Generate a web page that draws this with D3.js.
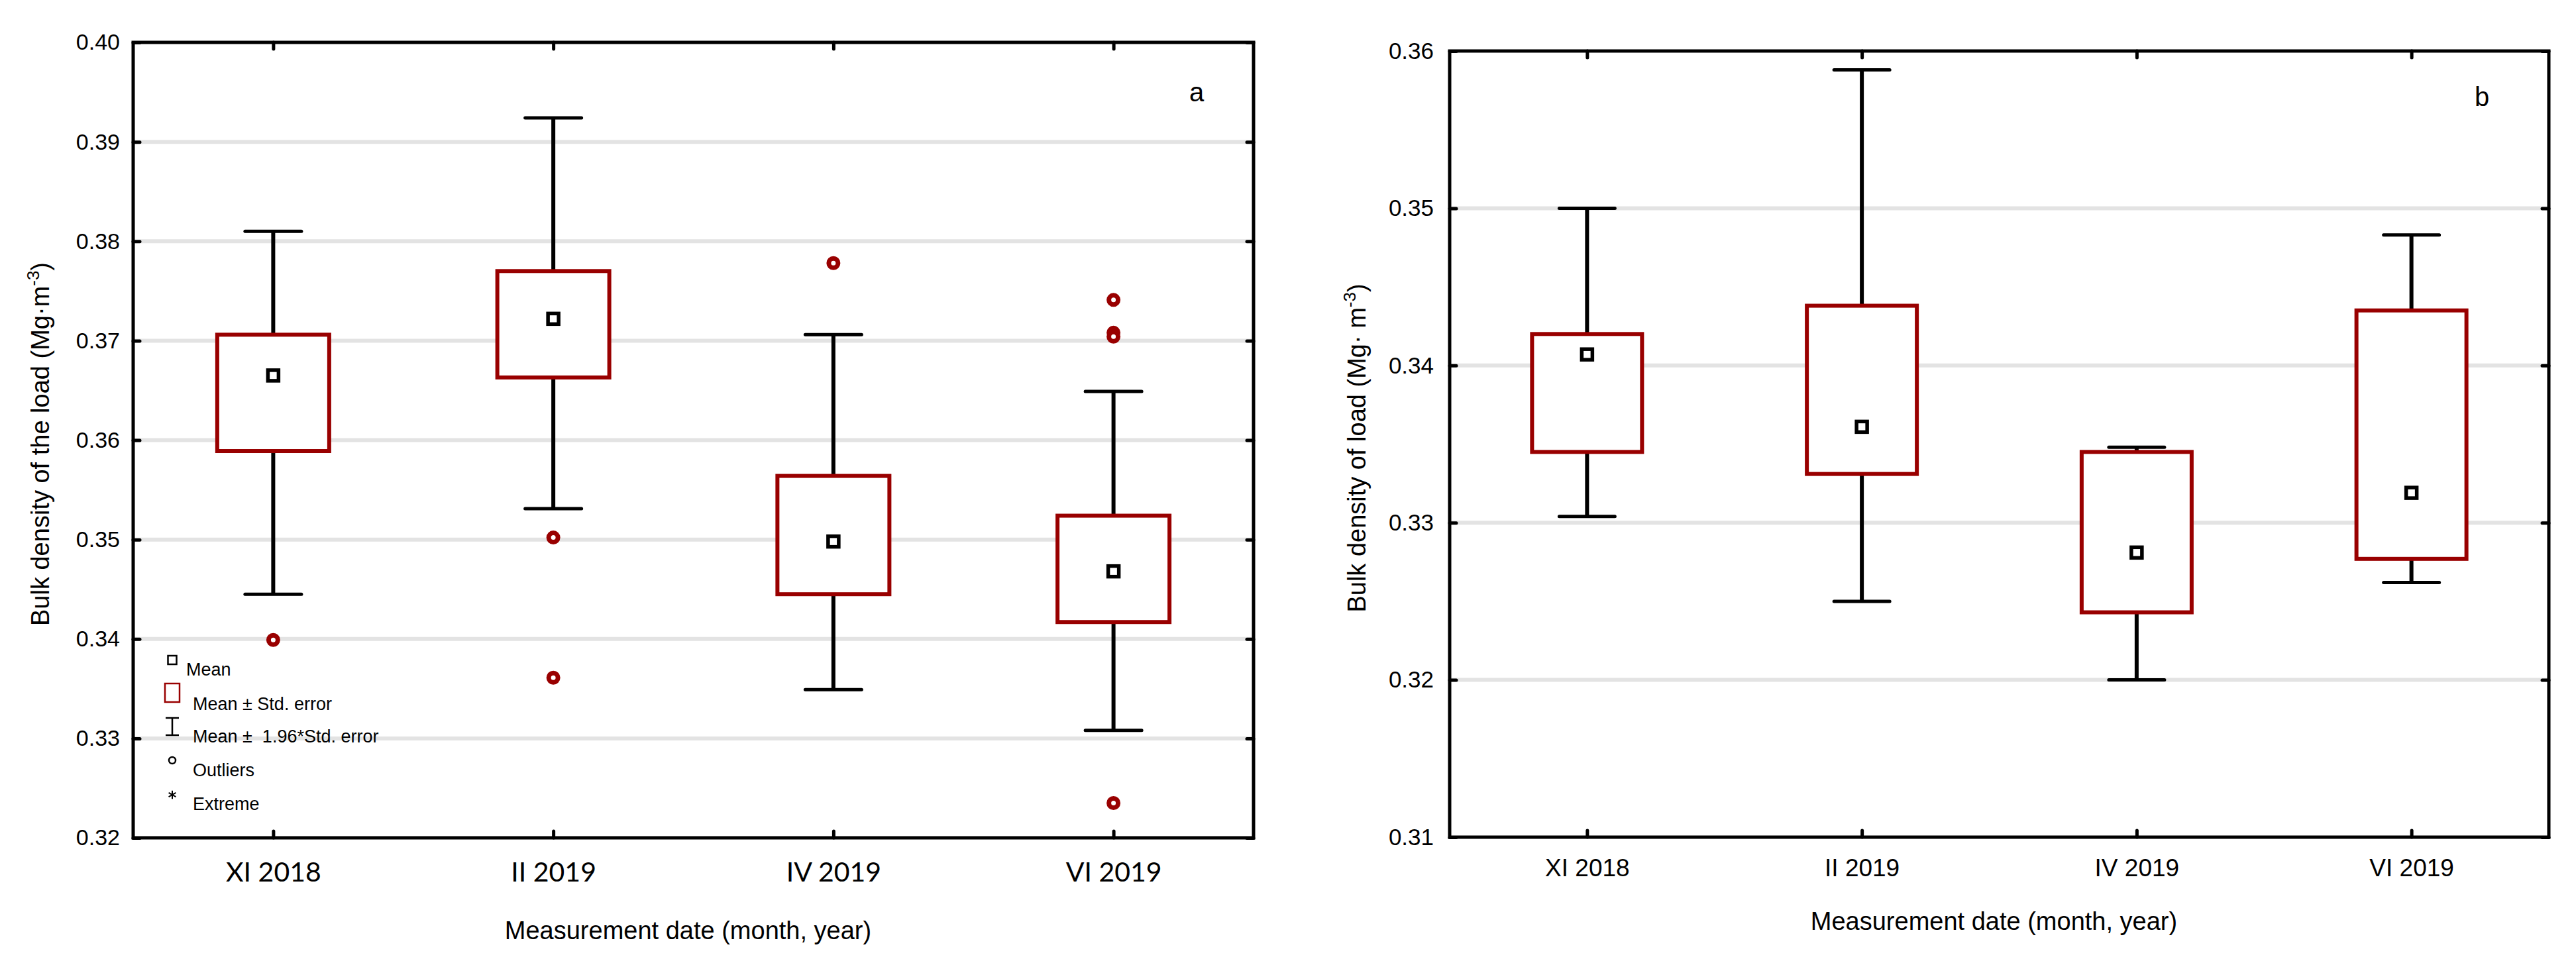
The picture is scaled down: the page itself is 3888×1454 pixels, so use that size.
<!DOCTYPE html>
<html lang="en">
<head>
    <meta charset="UTF-8">
    <title>Bulk density of the load</title>
    <script src="https://d3js.org/d3.v7.min.js"></script>
    <style>
        body {
            margin: 0;
            background: #fff;
        }
        svg text {
            font-family: "Liberation Sans", Arial, sans-serif;
            fill: #000;
        }
    </style>
</head>
<body>
    <div id="chart"></div>
    <script>
        // ---- data ----
        const categories = ["XI 2018", "II 2019", "IV 2019", "VI 2019"];

        // panel a
        const aMean      = [0.3665, 0.3722, 0.3498, 0.3468];
        const aBoxLow    = [0.3589, 0.3663, 0.3445, 0.3417];
        const aBoxHigh   = [0.3706, 0.3770, 0.3564, 0.3524];
        const aWhiskLow  = [0.3445, 0.3531, 0.3349, 0.3308];
        const aWhiskHigh = [0.3810, 0.3924, 0.3706, 0.3649];
        const aOutliers  = [[0.3399], [0.3502, 0.3361], [0.3778], [0.3741, 0.3708, 0.3704, 0.3235]];
        const aTicks     = [0.32, 0.33, 0.34, 0.35, 0.36, 0.37, 0.38, 0.39, 0.40];

        // panel b
        const bMean      = [0.3407, 0.3361, 0.3281, 0.3319];
        const bBoxLow    = [0.3345, 0.3331, 0.3243, 0.3277];
        const bBoxHigh   = [0.3420, 0.3438, 0.3345, 0.3435];
        const bWhiskLow  = [0.3304, 0.3250, 0.3200, 0.3262];
        const bWhiskHigh = [0.3500, 0.3588, 0.3348, 0.3483];
        const bOutliers  = [[], [], [], []];
        const bTicks     = [0.31, 0.32, 0.33, 0.34, 0.35, 0.36];

        const legendItems = ["Mean", "Mean \u00B1 Std. error", "Mean \u00B1  1.96*Std. error", "Outliers", "Extreme"];

        const width = 3888, height = 1454;
        const red = "#990000";

        const svg = d3.select("#chart").append("svg")
            .attr("width", width)
            .attr("height", height);

        function drawPanel(p) {
            const g = svg.append("g");
            const x = d3.scalePoint().domain(categories).range([p.left, p.right]).padding(0.5);
            const y = d3.scaleLinear().domain(p.domain).range([p.bottom, p.top]);

            // grid lines
            g.selectAll(".grid")
                .data(p.ticks.slice(1, -1))
                .enter().append("line")
                .attr("x1", p.left).attr("x2", p.right)
                .attr("y1", d => y(d)).attr("y2", d => y(d))
                .attr("stroke", "#e3e3e3")
                .attr("stroke-width", 6);

            // axes, ticks pointing inward
            const yl = g.append("g").attr("transform", `translate(${p.left},0)`)
                .call(d3.axisLeft(y).tickValues(p.ticks).tickFormat(d3.format(".2f"))
                    .tickSizeInner(-10).tickSizeOuter(0).tickPadding(p.yPad));
            const yr = g.append("g").attr("transform", `translate(${p.right},0)`)
                .call(d3.axisRight(y).tickValues(p.ticks).tickFormat("")
                    .tickSizeInner(-10).tickSizeOuter(0));
            const xb = g.append("g").attr("transform", `translate(0,${p.bottom})`)
                .call(d3.axisBottom(x).tickSizeInner(-10).tickSizeOuter(0).tickPadding(p.xPad));
            const xt = g.append("g").attr("transform", `translate(0,${p.top})`)
                .call(d3.axisTop(x).tickFormat("").tickSizeInner(-10).tickSizeOuter(0));

            [yl, yr, xb, xt].forEach(a => {
                a.select(".domain").remove();
                a.selectAll(".tick line").attr("stroke", "#000").attr("stroke-width", 5)
                    .attr("stroke-linecap", "round");
            });
            yl.selectAll("text").style("font-family", "'Liberation Sans', Arial, sans-serif")
                .style("font-size", p.yFont + "px");
            xb.selectAll("text").style("font-family", p.xFontFamily)
                .style("font-size", p.xFont + "px");

            // frame
            g.append("rect")
                .attr("x", p.left).attr("y", p.top)
                .attr("width", p.right - p.left).attr("height", p.bottom - p.top)
                .attr("fill", "none").attr("stroke", "#000").attr("stroke-width", 5);

            // whiskers
            const bw = p.boxWidth, cw = p.capWidth;
            categories.forEach((c, i) => {
                const cx = x(c);
                g.append("line")
                    .attr("x1", cx).attr("x2", cx)
                    .attr("y1", y(p.whiskLow[i])).attr("y2", y(p.whiskHigh[i]))
                    .attr("stroke", "#000").attr("stroke-width", 6);
                [p.whiskLow[i], p.whiskHigh[i]].forEach(v => {
                    g.append("line")
                        .attr("x1", cx - cw / 2).attr("x2", cx + cw / 2)
                        .attr("y1", y(v)).attr("y2", y(v))
                        .attr("stroke", "#000").attr("stroke-width", 5)
                        .attr("stroke-linecap", "round");
                });
            });

            // boxes (mean +- SE), white fill hides the whisker inside
            g.selectAll(".box")
                .data(categories)
                .enter().append("rect")
                .attr("x", d => x(d) - bw / 2)
                .attr("y", (d, i) => y(p.boxHigh[i]))
                .attr("width", bw)
                .attr("height", (d, i) => y(p.boxLow[i]) - y(p.boxHigh[i]))
                .attr("fill", "#fff")
                .attr("stroke", red)
                .attr("stroke-width", 6);

            // mean markers
            g.selectAll(".mean")
                .data(categories)
                .enter().append("rect")
                .attr("x", d => x(d) - 8)
                .attr("y", (d, i) => y(p.mean[i]) - 8)
                .attr("width", 16).attr("height", 16)
                .attr("fill", "#fff")
                .attr("stroke", "#000")
                .attr("stroke-width", 5.5);

            // outliers
            categories.forEach((c, i) => {
                g.selectAll(null)
                    .data(p.outliers[i])
                    .enter().append("circle")
                    .attr("cx", x(c))
                    .attr("cy", d => y(d))
                    .attr("r", 7)
                    .attr("fill", "#fff")
                    .attr("stroke", red)
                    .attr("stroke-width", 7);
            });

            // axis titles
            g.append("text")
                .attr("x", (p.left + p.right) / 2 - 8)
                .attr("y", p.xTitleY)
                .attr("text-anchor", "middle")
                .style("font-size", "38px")
                .text("Measurement date (month, year)");

            const yt = g.append("text")
                .attr("transform", `translate(${p.yTitleX},${(p.top + p.bottom) / 2 + 6}) rotate(-90)`)
                .attr("text-anchor", "middle")
                .style("font-size", "38px");
            yt.append("tspan").text(p.yTitle);
            yt.append("tspan").attr("baseline-shift", "super").style("font-size", "26px").text("-3");
            yt.append("tspan").text(")");

            // panel letter
            g.append("text")
                .attr("x", p.letterX).attr("y", p.letterY)
                .attr("text-anchor", "middle")
                .style("font-size", "40px")
                .text(p.letter);

            return { g, x, y };
        }

        const pa = drawPanel({
            left: 201, right: 1892, top: 64, bottom: 1265,
            domain: [0.32, 0.40], ticks: aTicks,
            mean: aMean, boxLow: aBoxLow, boxHigh: aBoxHigh,
            whiskLow: aWhiskLow, whiskHigh: aWhiskHigh, outliers: aOutliers,
            boxWidth: 169, capWidth: 85,
            yPad: 20, yFont: 34, xPad: 37, xFont: 41, xFontFamily: "Lato, 'Open Sans', sans-serif",
            xTitleY: 1418, yTitleX: 74,
            yTitle: "Bulk density of the load (Mg\u00B7m",
            letter: "a", letterX: 1806, letterY: 153
        });

        drawPanel({
            left: 2188, right: 3847, top: 77, bottom: 1264,
            domain: [0.31, 0.36], ticks: bTicks,
            mean: bMean, boxLow: bBoxLow, boxHigh: bBoxHigh,
            whiskLow: bWhiskLow, whiskHigh: bWhiskHigh, outliers: bOutliers,
            boxWidth: 166, capWidth: 84,
            yPad: 24, yFont: 35, xPad: 33, xFont: 37, xFontFamily: "'Liberation Sans', Arial, sans-serif",
            xTitleY: 1404, yTitleX: 2061,
            yTitle: "Bulk density of load (Mg\u00B7 m",
            letter: "b", letterX: 3746, letterY: 160
        });

        // legend (panel a only)
        const leg = pa.g.append("g");
        const lx = 260;
        leg.append("rect").attr("x", lx - 6.5).attr("y", 990).attr("width", 13).attr("height", 13)
            .attr("fill", "none").attr("stroke", "#000").attr("stroke-width", 2.5);
        leg.append("rect").attr("x", lx - 11).attr("y", 1032).attr("width", 22).attr("height", 28)
            .attr("fill", "none").attr("stroke", red).attr("stroke-width", 2.5);
        leg.append("path")
            .attr("d", `M${lx - 10},1084H${lx + 10}M${lx},1084V1110M${lx - 10},1110H${lx + 10}`)
            .attr("fill", "none").attr("stroke", "#000").attr("stroke-width", 2.5);
        leg.append("circle").attr("cx", lx).attr("cy", 1148).attr("r", 5)
            .attr("fill", "none").attr("stroke", "#000").attr("stroke-width", 2.5);
        leg.append("path")
            .attr("transform", `translate(${lx},1200)`)
            .attr("d", d3.symbol(d3.symbolAsterisk, 110)())
            .attr("fill", "none").attr("stroke", "#000").attr("stroke-width", 2);

        const legX = [281, 291, 291, 291, 291];
        const legY = [1020, 1072, 1121, 1172, 1223];
        leg.selectAll(".lt")
            .data(legendItems)
            .enter().append("text")
            .attr("x", (d, i) => legX[i])
            .attr("y", (d, i) => legY[i])
            .style("font-size", "27px")
            .style("white-space", "pre")
            .text(d => d);
    </script>
</body>
</html>
